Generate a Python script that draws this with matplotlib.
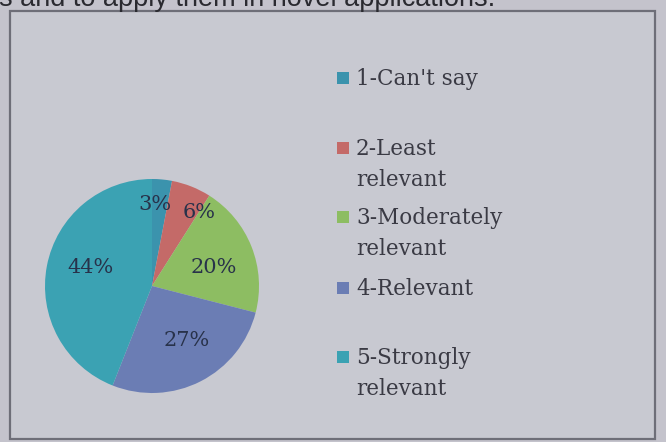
import matplotlib
matplotlib.use('Agg')
import matplotlib.pyplot as plt
from matplotlib.patches import Rectangle
import numpy as np

# Survey responses on relevance (percent of respondents)
categories = ['1-Can\'t say', '2-Least\nrelevant', '3-Moderately\nrelevant',
              '4-Relevant', '5-Strongly\nrelevant']
shares = [3, 6, 20, 27, 44]
colors = ['#3b93ad', '#c46a68', '#8dbd62', '#6b7db4', '#3ba2b3']

fig = plt.figure(figsize=(6.66, 4.42), dpi=100)
fig.patch.set_facecolor('#c4c3cc')

# frame around the chart
fig.patches.append(Rectangle((10 / 666, 3 / 442), 645 / 666, 428 / 442,
                             transform=fig.transFigure, facecolor='#c8c9d1',
                             edgecolor='#6e6e78', linewidth=1.6, zorder=-5))

# running text from the page above the chart (cut off at the top)
fig.text(-0.002, 1 - 6 / 442, 's and to apply them in novel applications.',
         family='Liberation Sans', fontsize=19.5, color='#2a2a30', va='baseline')

ax = fig.add_axes([45 / 666, 49 / 442, 214 / 666, 214 / 442])
wedges, _ = ax.pie(shares, colors=colors, startangle=90, counterclock=False,
                   wedgeprops=dict(linewidth=0))
ax.set_xlim(-1, 1)
ax.set_ylim(-1, 1)
ax.set_aspect('equal')

# percentage labels: distance from centre and angular nudge per slice
label_dist = [0.76, 0.81, 0.6, 0.6, 0.6]
label_shift = [3, -11, -5, 5.5, -5.5]
for w, v, d, s in zip(wedges, shares, label_dist, label_shift):
    ang = np.deg2rad((w.theta1 + w.theta2) / 2 + s)
    ax.text(d * np.cos(ang), d * np.sin(ang), f'{v}%', ha='center', va='center',
            family='DejaVu Serif', fontsize=15, color='#28324a')

# legend drawn as squares and labels on the right
legend_y = [78, 148, 217, 288, 357]
for lab, c, y in zip(categories, colors, legend_y):
    fig.patches.append(Rectangle((337 / 666, 1 - (y + 6) / 442), 12 / 666, 12 / 442,
                                 transform=fig.transFigure, facecolor=c,
                                 edgecolor='none'))
    fig.text(356 / 666, 1 - (y - 10) / 442, lab, family='DejaVu Serif',
             fontsize=15.5, color='#3a3a44', va='top', linespacing=1.55)

fig.savefig('out.png', dpi=100, facecolor=fig.get_facecolor())
